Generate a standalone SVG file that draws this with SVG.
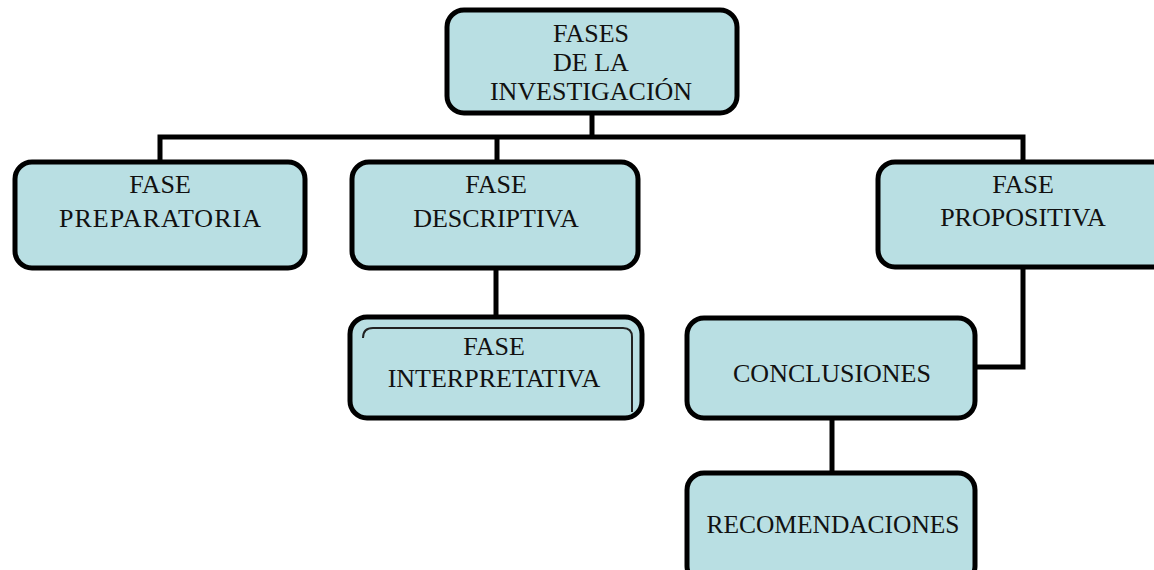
<svg xmlns="http://www.w3.org/2000/svg" width="1154" height="570" viewBox="0 0 1154 570">
<style>
.box{fill:#B9DFE3;stroke:#000;stroke-width:5}
.inner{fill:none;stroke:#222;stroke-width:2}
.conn{fill:none;stroke:#000;stroke-width:5}
text{font-family:"Liberation Serif","Times New Roman",serif;font-size:26px;fill:#111;text-anchor:middle}
</style>
<rect width="1154" height="570" fill="#fff"/>
<g id="connectors">
<path class="conn" d="M592,113 V137"/>
<path class="conn" d="M160,162 V137 H1023 V162"/>
<path class="conn" d="M497,137 V162"/>
<path class="conn" d="M496,268 V317"/>
<path class="conn" d="M1023,267 V367 H975"/>
<path class="conn" d="M832,418 V473"/>
</g>
<g id="node-fases">
<rect class="box" x="447" y="10" width="290" height="103" rx="17"/>
<text x="591" y="42">FASES</text>
<text x="591" y="71">DE LA</text>
<text x="591" y="100">INVESTIGACIÓN</text>
</g>
<g id="node-preparatoria">
<rect class="box" x="15" y="162" width="290" height="106" rx="17"/>
<text x="160" y="193">FASE</text>
<text x="160" y="227" textLength="202" lengthAdjust="spacing">PREPARATORIA</text>
</g>
<g id="node-descriptiva">
<rect class="box" x="352" y="162" width="286" height="106" rx="17"/>
<text x="496" y="193">FASE</text>
<text x="496" y="227">DESCRIPTIVA</text>
</g>
<g id="node-propositiva">
<rect class="box" x="878" y="162" width="300" height="105" rx="17"/>
<text x="1023" y="193">FASE</text>
<text x="1023" y="226">PROPOSITIVA</text>
</g>
<g id="node-interpretativa">
<rect class="box" x="350" y="317" width="292" height="101" rx="17"/>
<path class="inner" d="M363,338 Q363,328 373,328 H623 Q632,328 632,337 V412"/>
<text x="494" y="355">FASE</text>
<text x="494" y="387">INTERPRETATIVA</text>
</g>
<g id="node-conclusiones">
<rect class="box" x="687" y="318" width="288" height="100" rx="17"/>
<text x="832" y="382">CONCLUSIONES</text>
</g>
<g id="node-recomendaciones">
<rect class="box" x="687" y="473" width="288" height="110" rx="17"/>
<text x="833" y="533" textLength="253" lengthAdjust="spacingAndGlyphs">RECOMENDACIONES</text>
</g>
</svg>
